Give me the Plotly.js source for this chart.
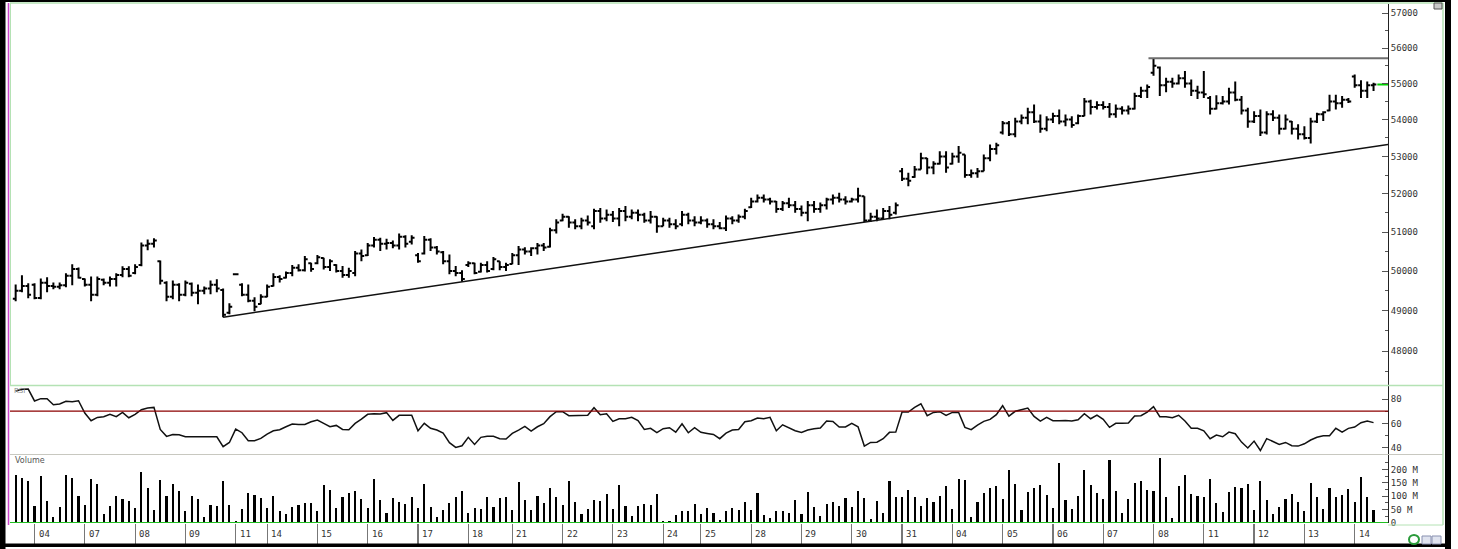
<!DOCTYPE html>
<html><head><meta charset="utf-8">
<script src="https://cdn.plot.ly/plotly-3.0.1.min.js"></script>
<style>html,body{margin:0;padding:0;background:#fff;overflow:hidden;} #chart{width:1458px;height:549px;}</style>
</head><body><div id="chart"></div>
<script>
const highP = [49660,49890,49690,49690,49810,49840,49710,49710,49940,50170,
50090,49810,49860,49860,49810,49860,49940,50120,50120,50170,
50730,50810,50840,50270,49740,49760,49690,49760,49710,49660,
49610,49760,49790,49560,49190,49930,49690,49660,49340,49410,
49660,49940,49890,49990,50150,50170,50380,50210,50410,50340,
50300,50170,50130,50080,50510,50550,50720,50870,50850,50830,
50780,50960,50920,50920,50460,50900,50840,50640,50510,50420,
50130,50020,50250,50210,50210,50250,50360,50250,50210,50460,
50640,50610,50610,50720,50720,51110,51330,51480,51410,51330,
51370,51430,51610,51630,51590,51550,51630,51680,51590,51590,
51500,51550,51410,51370,51370,51330,51550,51500,51410,51410,
51350,51330,51260,51430,51410,51460,51610,51900,51980,51980,
51900,51810,51810,51900,51810,51690,51810,51810,51770,51900,
51980,52030,51940,51900,52160,51940,51500,51590,51630,51680,
51770,52690,52560,52740,53100,52960,52870,53140,53140,53100,
53280,53050,52650,52690,53050,53320,53370,53960,53960,54050,
54140,54330,54420,54140,54090,54190,54280,54140,54090,54140,
54600,54550,54510,54510,54460,54420,54370,54390,54740,54910,
54970,55700,55480,55160,55160,55250,55350,55110,54940,55350,
54650,54670,54650,54880,55060,54650,54330,54230,54280,54230,
54260,54140,54140,53960,53870,53820,54050,54190,54230,54690,
54690,54650,54600,55250,55090,55060,55020];
const lowP = [49240,49460,49310,49290,49290,49460,49540,49540,49590,49640,
49810,49610,49240,49360,49640,49610,49610,49840,49840,49920,
50120,50530,50600,49660,49240,49290,49240,49360,49360,49160,
49410,49410,49460,48840,48910,49910,49360,49210,48990,49160,
49340,49610,49710,49810,49870,49990,49990,49980,50170,50040,
50000,49960,49830,49830,49870,50250,50380,50600,50510,50550,
50580,50550,50600,50680,50210,50420,50510,50420,50170,49920,
49870,49730,50100,49920,49960,49960,50020,50020,50000,50170,
50150,50420,50380,50420,50510,50600,50960,51280,51110,51070,
51070,51170,51070,51240,51280,51260,51150,51280,51330,51280,
51240,51220,50980,51150,51110,51070,51150,51200,51150,51200,
51110,51070,51070,51030,51200,51240,51330,51630,51770,51770,
51720,51500,51550,51630,51500,51410,51280,51500,51500,51590,
51720,51770,51720,51770,51770,51260,51260,51280,51330,51330,
51460,52340,52200,52430,52650,52520,52520,52780,52560,52780,
52830,52430,52430,52430,52600,52870,53050,53590,53550,53520,
53870,53870,53910,53640,53680,53910,53870,53820,53780,53870,
54090,54140,54280,54280,54050,54050,54140,54140,54280,54600,
54600,55220,54650,54760,54880,54970,54880,54650,54570,54600,
54140,54280,54420,54420,54510,54140,53780,53910,53550,53590,
53960,53590,53730,53590,53460,53460,53350,53910,53960,54230,
54280,54330,54460,54880,54600,54600,54790];
const openP = [49300,49500,49620,49650,49320,49700,49620,49600,49640,49880,
50050,49800,49650,49400,49780,49700,49800,49900,50050,49950,
50150,50650,50700,50250,49700,49350,49650,49400,49680,49450,
49500,49560,49650,49520,48950,49920,49650,49400,49250,49170,
49350,49620,49850,49830,49950,50080,50020,50200,50200,50330,
50100,50150,50000,49900,49950,50450,50400,50650,50800,50700,
50720,50650,50880,50750,50400,50450,50800,50600,50480,50250,
50000,49950,50150,50200,49980,50150,50050,50250,50100,50180,
50400,50550,50500,50580,50650,50620,51050,51300,51400,51250,
51150,51300,51150,51550,51350,51450,51350,51550,51400,51500,
51450,51300,51400,51150,51300,51200,51200,51450,51300,51250,
51300,51200,51150,51100,51350,51300,51400,51650,51800,51900,
51850,51800,51600,51750,51700,51600,51500,51700,51600,51700,
51850,51900,51850,51800,51850,51940,51300,51400,51350,51550,
51500,52600,52400,52450,52650,52950,52700,52800,53000,52800,
53000,53050,52500,52550,52600,52950,53200,53650,53900,53600,
53950,54050,54200,53950,53750,54000,54100,53950,54000,53900,
54100,54500,54350,54400,54350,54150,54300,54250,54300,54650,
54800,55300,55450,54950,55050,55000,55150,55000,54800,54750,
54600,54300,54450,54500,54750,54550,54250,53950,54100,53650,
54150,54050,53750,53950,53750,53600,53500,53950,54150,54250,
54500,54450,54550,55200,54950,54800,54950];
const closeP = [49500,49620,49400,49320,49700,49620,49600,49640,49880,50050,
49830,49650,49400,49800,49700,49800,49900,50050,49880,50100,
50650,50700,50780,49750,49350,49650,49400,49700,49450,49500,
49560,49650,49560,48900,49100,49920,49400,49250,49100,49350,
49600,49850,49800,49950,50080,50020,50300,50050,50350,50100,
50250,50000,49900,50000,50450,50380,50650,50800,50700,50720,
50650,50880,50700,50850,50250,50800,50600,50500,50250,50000,
49950,49800,50200,49950,50150,50000,50300,50100,50150,50400,
50550,50500,50580,50650,50600,51050,51250,51400,51250,51150,
51300,51250,51550,51350,51450,51350,51550,51400,51500,51450,
51300,51400,51150,51300,51200,51150,51450,51300,51250,51300,
51200,51150,51100,51350,51300,51400,51550,51800,51900,51850,
51800,51600,51750,51700,51600,51500,51700,51600,51700,51850,
51900,51850,51800,51850,51950,51300,51400,51350,51550,51450,
51700,52400,52350,52650,52950,52700,52800,53000,52700,53000,
53100,52500,52550,52600,52950,53200,53300,53900,53600,53950,
54050,54200,53950,53750,54000,54100,53950,54000,53850,54100,
54500,54350,54400,54350,54150,54300,54250,54300,54650,54800,
54900,55500,54950,55050,55000,55150,55000,54800,54750,54700,
54300,54450,54500,54750,54550,54250,53950,54100,53650,54150,
54050,53750,54000,53750,53600,53500,53950,54150,54200,54500,
54450,54550,54500,54950,54800,54950,54970];
const rsi = [86.6,88.0,88.2,78.4,80.3,80.3,75.3,75.9,78.1,77.8,
78.6,68.5,62.2,64.9,65.5,67.4,65.5,69.0,64.6,67.4,
71.2,72.6,73.1,55.0,49.3,50.9,50.6,49.0,49.0,49.0,
49.0,48.8,49.0,40.8,44.3,55.3,52.3,45.7,45.7,47.6,
51.2,53.9,54.8,57.2,59.4,59.1,59.1,61.3,62.7,60.0,
57.2,58.3,55.0,54.8,60.0,63.5,67.4,67.9,67.7,68.8,
62.4,66.6,66.6,66.6,53.9,60.0,55.9,54.5,52.0,44.1,
40.2,41.6,48.5,42.7,48.5,49.3,49.3,47.4,47.1,51.7,
54.5,57.5,53.7,57.2,59.7,65.5,69.6,69.6,66.3,66.6,
66.6,66.6,72.9,67.1,67.9,61.6,63.8,63.8,64.9,62.2,
55.0,55.9,52.3,55.6,56.4,52.8,59.7,52.3,56.4,52.6,
51.7,50.9,47.4,52.0,54.5,55.0,61.3,62.2,64.4,63.8,
64.9,53.9,58.8,56.4,53.9,52.6,54.5,55.6,56.2,61.9,
61.6,57.0,57.0,60.0,57.2,41.3,44.3,44.5,47.4,52.6,
52.8,69.3,69.3,73.1,76.1,66.3,69.0,69.6,66.6,69.0,
69.0,56.7,54.8,58.6,61.6,63.3,67.1,74.5,66.0,69.9,
71.2,72.6,65.7,61.9,64.9,62.2,62.2,62.4,61.9,63.0,
67.9,63.8,66.8,63.3,56.7,60.0,60.0,60.3,66.0,66.3,
69.3,73.7,65.5,65.5,64.6,66.6,61.9,55.9,55.9,53.9,
47.4,50.4,49.0,52.8,51.5,44.6,39.7,45.4,37.7,47.4,
45.1,42.7,44.3,41.6,41.3,43.2,46.3,48.5,49.8,49.8,
55.9,52.8,55.9,57.0,60.5,61.9,60.6];
const volume = [178,167,158,62,177,81,24,58,180,167,
100,68,165,147,35,63,102,88,81,56,
189,129,47,162,102,144,121,44,102,88,
22,68,62,158,66,9,51,111,103,92,
56,100,44,32,60,68,76,76,44,141,
122,55,96,111,118,90,56,165,85,39,
92,80,71,98,55,144,58,24,47,73,
96,118,39,57,52,98,58,95,98,50,
152,85,47,100,73,129,96,66,156,78,
32,51,85,81,109,53,143,63,25,63,
70,66,108,7,9,29,44,46,72,34,
57,39,10,44,55,49,77,47,112,31,
17,45,46,39,87,34,117,58,25,71,
78,65,95,60,119,93,15,81,37,157,
98,98,123,98,65,93,78,102,137,51,
163,159,24,78,112,131,137,90,197,144,
50,117,132,141,103,55,225,85,53,102,
199,143,111,88,236,119,36,90,148,158,
122,119,243,98,20,138,178,108,102,98,
163,73,42,117,136,129,144,47,156,87,
34,58,91,107,78,44,148,97,53,129,
98,103,128,80,173,98,47];
const dayStart = [3,11,19,27,35,40,48,56,64,72,79,87,95,103,109,117,125,133,141,149,157,165,173,181,189,197,205,213];
const dayLabels = ['04','07','08','09','11','14','15','16','17','18','21','22','23','24','25','28','29','30','31','04','05','06','07','08','11','12','13','14'];
const priceTicks = [48000,49000,50000,51000,52000,53000,54000,55000,56000,57000];
const priceMinorTicks = [47500,48500,49500,50500,51500,52500,53500,54500,55500,56500];
const rsiTicks = [40,60,80];
const rsiMinorTicks = [50,70];
const rsiLevel = 70;
const volTicks = [0,50,100,150,200];
const volTickText = ['0','50 M','100 M','150 M','200 M'];
const volMinorTicks = [25,75,125,175,225];
const trendX = [33, 218.3];
const trendY = [48840, 53320];
const resistX = [180.2, 218.3];
const resistY = [55710, 55710];

const idx = closeP.map((_, i) => i);
const last = closeP[closeP.length - 1];
const px2x = p => (p - 10) / 1378;
const px2y = p => (523 - p) / 519;
const lblFont = {family: 'DejaVu Sans Mono', size: 9, color: '#333'};

const traces = [
  {type: 'ohlc', x: idx, open: openP, high: highP, low: lowP, close: closeP,
   xaxis: 'x', yaxis: 'y', tickwidth: 0.45, hoverinfo: 'skip',
   increasing: {line: {color: '#000', width: 2}}, decreasing: {line: {color: '#000', width: 2}}},
  {type: 'scatter', mode: 'lines', x: trendX, y: trendY, xaxis: 'x', yaxis: 'y',
   line: {color: '#111', width: 1.5}, hoverinfo: 'skip'},
  {type: 'scatter', mode: 'lines', x: resistX, y: resistY, xaxis: 'x', yaxis: 'y',
   line: {color: '#6e6e6e', width: 2}, hoverinfo: 'skip'},
  {type: 'scatter', mode: 'lines', x: [idx[idx.length - 1] + 0.6, 218.3], y: [last, last], xaxis: 'x', yaxis: 'y',
   line: {color: '#00d000', width: 2}, hoverinfo: 'skip'},
  {type: 'scatter', mode: 'lines', x: idx, y: rsi, xaxis: 'x', yaxis: 'y2',
   line: {color: '#111', width: 1.5}, hoverinfo: 'skip'},
  {type: 'bar', x: idx, y: volume, xaxis: 'x', yaxis: 'y3', width: 0.34,
   marker: {color: '#000', line: {width: 0}}, hoverinfo: 'skip'}
];

const axisCommon = {side: 'right', anchor: 'x', showgrid: false, zeroline: false, showline: true,
  linecolor: '#222', linewidth: 1, ticks: 'inside', ticklen: 6, tickcolor: '#555', tickwidth: 1,
  tickfont: lblFont, fixedrange: true};

const shapes = [
  {type: 'line', xref: 'x domain', yref: 'y2', x0: 0, x1: 1, y0: rsiLevel, y1: rsiLevel, line: {color: '#8b0000', width: 1.2}},
  {type: 'line', xref: 'x domain', yref: 'y3', x0: 0, x1: 1, y0: 0, y1: 0, line: {color: '#22c022', width: 2}},
  {type: 'line', xref: 'paper', yref: 'paper', x0: 0, x1: px2x(1443), y0: px2y(385.5), y1: px2y(385.5), line: {color: '#b4e2b4', width: 1.5}},
  {type: 'line', xref: 'paper', yref: 'paper', x0: 0, x1: px2x(1443), y0: px2y(3), y1: px2y(3), line: {color: '#b4e2b4', width: 1.5}},
  {type: 'line', xref: 'paper', yref: 'paper', x0: 0, x1: px2x(1443), y0: px2y(454.5), y1: px2y(454.5), line: {color: '#c8c8c0', width: 1.2}},
  {type: 'line', xref: 'paper', yref: 'paper', x0: px2x(1388), x1: px2x(1443), y0: px2y(525), y1: px2y(525), line: {color: '#b4e2b4', width: 1}},
  {type: 'line', xref: 'paper', yref: 'paper', x0: px2x(1443), x1: px2x(1443), y0: px2y(3), y1: px2y(525), line: {color: '#b4e2b4', width: 1.5}},
  {type: 'line', xref: 'paper', yref: 'paper', x0: px2x(10.5), x1: px2x(10.5), y0: px2y(3), y1: px2y(385), line: {color: '#b4e2b4', width: 1}},
  {type: 'line', xref: 'paper', yref: 'paper', x0: px2x(8.5), x1: px2x(8.5), y0: px2y(3), y1: px2y(525), line: {color: '#cc44cc', width: 1.5}},
  {type: 'rect', xref: 'paper', yref: 'paper', x0: px2x(0), x1: px2x(5.5), y0: px2y(549), y1: px2y(0), fillcolor: '#000', line: {width: 0}},
  {type: 'rect', xref: 'paper', yref: 'paper', x0: px2x(0), x1: px2x(1451), y0: px2y(2), y1: px2y(0), fillcolor: '#000', line: {width: 0}},
  {type: 'rect', xref: 'paper', yref: 'paper', x0: px2x(1445), x1: px2x(1451), y0: px2y(549), y1: px2y(0), fillcolor: '#000', line: {width: 0}},
  {type: 'rect', xref: 'paper', yref: 'paper', x0: px2x(0), x1: px2x(1451), y0: px2y(547), y1: px2y(543.5), fillcolor: '#000', line: {width: 0}},
  {type: 'rect', xref: 'paper', yref: 'paper', x0: px2x(1434), x1: px2x(1442), y0: px2y(9), y1: px2y(3), fillcolor: '#c8c8c8', line: {color: '#555', width: 1}},
  {type: 'circle', xref: 'paper', yref: 'paper', x0: px2x(1409), x1: px2x(1419), y0: px2y(544), y1: px2y(535), fillcolor: 'rgba(0,0,0,0)', line: {color: '#2a9a3a', width: 2}},
  {type: 'rect', xref: 'paper', yref: 'paper', x0: px2x(1422), x1: px2x(1431), y0: px2y(544), y1: px2y(536), fillcolor: '#dfe3ef', line: {color: '#8890b0', width: 1}},
  {type: 'rect', xref: 'paper', yref: 'paper', x0: px2x(1432), x1: px2x(1441), y0: px2y(544), y1: px2y(536), fillcolor: '#dfe3ef', line: {color: '#8890b0', width: 1}}
];

const annotations = dayStart.map((d, i) => ({
  x: d, xref: 'x', y: px2y(534), yref: 'paper', text: dayLabels[i], showarrow: false,
  xanchor: 'left', yanchor: 'middle', xshift: 2, font: lblFont
}));
annotations.push({x: px2x(12), xref: 'paper', y: px2y(391), yref: 'paper', text: 'RSI', showarrow: false,
  xanchor: 'left', yanchor: 'middle', font: {family: 'DejaVu Sans', size: 7, color: '#888'}});
annotations.push({x: px2x(13), xref: 'paper', y: px2y(460.5), yref: 'paper', text: 'Volume', showarrow: false,
  xanchor: 'left', yanchor: 'middle', font: {family: 'DejaVu Sans', size: 8, color: '#555'}});

const layout = {
  width: 1458, height: 549, margin: {l: 10, r: 70, t: 4, b: 26},
  paper_bgcolor: '#fff', plot_bgcolor: '#fff', showlegend: false, bargap: 0,
  xaxis: {range: [-0.9, 218.3], anchor: 'y3', tickvals: dayStart, ticks: 'outside', ticklen: 20,
    tickcolor: '#777', tickwidth: 1.2, showticklabels: false, showgrid: false, zeroline: false,
    showline: false, rangeslider: {visible: false}, fixedrange: true},
  yaxis: Object.assign({}, axisCommon, {domain: [0.2649, 1], type: 'log', range: [4.67369, 4.75792],
    tickvals: priceTicks, ticktext: priceTicks.map(String),
    minor: {tickvals: priceMinorTicks, ticks: 'inside', ticklen: 3, tickcolor: '#555'}}),
  yaxis2: Object.assign({}, axisCommon, {domain: [0.13295, 0.26301], range: [34.81, 90.29],
    tickvals: rsiTicks, ticktext: rsiTicks.map(String),
    minor: {tickvals: rsiMinorTicks, ticks: 'inside', ticklen: 3, tickcolor: '#555'}}),
  yaxis3: Object.assign({}, axisCommon, {domain: [0, 0.13102], range: [0, 253.7],
    tickvals: volTicks, ticktext: volTickText,
    minor: {tickvals: volMinorTicks, ticks: 'inside', ticklen: 3, tickcolor: '#555'}}),
  shapes: shapes, annotations: annotations
};

Plotly.newPlot('chart', traces, layout, {staticPlot: true, displayModeBar: false});
</script></body></html>
